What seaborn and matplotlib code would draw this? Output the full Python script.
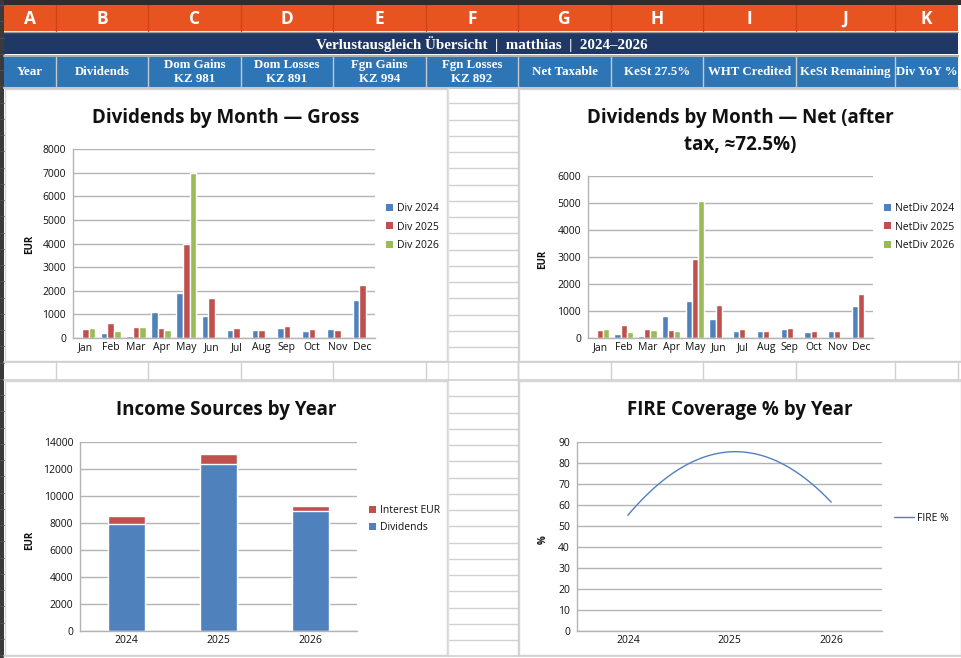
import numpy as np
import pandas as pd
import matplotlib
matplotlib.use("Agg")
import matplotlib.pyplot as plt
from matplotlib.patches import Rectangle
from matplotlib.lines import Line2D
import seaborn as sns

# ---------------- data ----------------
months = ["Jan", "Feb", "Mar", "Apr", "May", "Jun", "Jul", "Aug", "Sep", "Oct", "Nov", "Dec"]
div_2024 = [0, 200, 100, 1100, 1890, 945, 350, 350, 410, 300, 365, 1595]
div_2025 = [380, 635, 480, 440, 3990, 1680, 440, 350, 510, 380, 350, 2255]
div_2026 = [420, 300, 465, 340, 7000, 0, 0, 0, 0, 0, 0, 0]
net_2024 = [0, 160, 86, 812, 1378, 689, 270, 270, 320, 221, 270, 1168]
net_2025 = [283, 467, 320, 295, 2915, 1218, 320, 270, 381, 270, 270, 1636]
net_2026 = [320, 221, 295, 258, 5080, 0, 0, 0, 0, 0, 0, 0]
years = ["2024", "2025", "2026"]
dividends_year = [7950, 12350, 8860]
interest_year = [540, 740, 370]
fire_pct = [55.1, 85.3, 61.4]

col_letters = ["A", "B", "C", "D", "E", "F", "G", "H", "I", "J", "K"]
col_edges = [4, 56, 148, 241, 333, 426, 518, 611, 703, 796, 895, 958]
header_labels = ["Year", "Dividends", "Dom Gains\nKZ 981", "Dom Losses\nKZ 891", "Fgn Gains\nKZ 994",
                 "Fgn Losses\nKZ 892", "Net Taxable", "KeSt 27.5%", "WHT Credited", "KeSt Remaining", "Div YoY %"]
sheet_title = "Verlustausgleich Übersicht  |  matthias  |  2024–2026"

BLUE, RED, GREEN = "#4F81BD", "#C0504D", "#9BBB59"
GRID = "#b3b3b3"
INK = "#111111"

W, H = 961, 658
sns.set_theme(style="white")
plt.rcParams["font.family"] = ["Open Sans", "DejaVu Sans"]
plt.rcParams["text.color"] = INK

fig = plt.figure(figsize=(W / 100, H / 100), dpi=100)
bg = fig.add_axes([0, 0, 1, 1])
bg.set_xlim(0, W)
bg.set_ylim(H, 0)
bg.axis("off")


def rect(x0, y0, x1, y1, **kw):
    bg.add_patch(Rectangle((x0, y0), x1 - x0, y1 - y0, **kw))


def axrect(x0, y0, x1, y1):
    return [x0 / W, 1 - y1 / H, (x1 - x0) / W, (y1 - y0) / H]


# ---------------- spreadsheet background ----------------
rect(0, 0, W, H, facecolor="white", edgecolor="none")
rect(0, 0, W, 5, facecolor="#2d2d2d", edgecolor="none")
rect(0, 0, 4, H, facecolor="#3a3a3a", edgecolor="none")
for y in np.arange(5, H, 16.25):
    bg.plot([0, 4], [y, y], color="#555555", lw=0.6)
# column header row
rect(4, 5, 958, 31, facecolor="#E8541F", edgecolor="none")
for x in col_edges[1:-1]:
    bg.plot([x, x], [5, 31], color="#c9461a", lw=1)
for i, L in enumerate(col_letters):
    cx = (col_edges[i] + col_edges[i + 1]) / 2
    bg.text(cx, 18.5, L, color="white", fontsize=12.5, fontweight="bold", ha="center", va="center")
bg.plot([4, 958], [31.5, 31.5], color="#9a9a9a", lw=1)
# title row
rect(4, 32, 958, 54, facecolor="#1F3864", edgecolor="none")
bg.text(482, 44, sheet_title, color="white", fontsize=10.8, fontweight="bold", ha="center", va="center",
        family=["Liberation Serif", "DejaVu Serif"])
bg.plot([4, 958], [55.5, 55.5], color="#b0b0b0", lw=1.5)
# header row
rect(4, 57, 958, 87, facecolor="#2E75B6", edgecolor="none")
for x in col_edges[1:-1]:
    bg.plot([x, x], [57, 87], color="#c8c8c8", lw=1)
for i, lab in enumerate(header_labels):
    cx = (col_edges[i] + col_edges[i + 1]) / 2
    bg.text(cx, 72, lab, color="white", fontsize=9.3, fontweight="bold", ha="center", va="center",
            family=["Liberation Serif", "DejaVu Serif"], linespacing=1.25)
bg.plot([4, 958], [88, 88], color="#c8c8c8", lw=1.5)

# grid cells between charts
for y in np.arange(87 + 16.25, 362, 16.25):
    bg.plot([448, 518], [y, y], color="#d0d0d0", lw=1)
for y in np.arange(380 + 16.25, 656, 16.25):
    bg.plot([448, 518], [y, y], color="#d0d0d0", lw=1)
bg.plot([518, 518], [88, 656], color="#d0d0d0", lw=1)
bg.plot([448, 448], [88, 656], color="#e0e0e0", lw=1)
bg.plot([4, 961], [362, 362], color="#d0d0d0", lw=1.2)
bg.plot([4, 961], [380, 380], color="#d0d0d0", lw=1.2)
for x in col_edges[1:]:
    bg.plot([x, x], [362, 380], color="#d0d0d0", lw=1)
bg.plot([4, 961], [656, 656], color="#d0d0d0", lw=1.2)

# chart panels
for (x0, y0, x1, y1) in [(5, 89, 447, 361), (519, 89, 961, 361), (5, 381, 447, 655), (519, 381, 961, 655)]:
    rect(x0, y0, x1, y1, facecolor="white", edgecolor="#d6d6d6", lw=1)


def style_ax(ax, ymax, step):
    ax.set_facecolor("none")
    ax.set_ylim(0, ymax)
    ax.set_yticks(np.arange(0, ymax + 1, step))
    ax.yaxis.grid(True, color=GRID, lw=1)
    ax.xaxis.grid(False)
    ax.set_axisbelow(True)
    for s in ["top", "right"]:
        ax.spines[s].set_visible(False)
    for s in ["left", "bottom"]:
        ax.spines[s].set_color(GRID)
        ax.spines[s].set_linewidth(1)
    ax.tick_params(axis="y", length=3, width=0.8, color=GRID, labelsize=7.5, pad=2, labelcolor=INK)
    ax.tick_params(axis="x", length=0, labelsize=7.5, pad=3, labelcolor=INK)
    ax.set_xlabel("")
    ax.set_ylabel("")


def square_legend(ax, labels, colors, x, y, spacing):
    handles = [Rectangle((0, 0), 1, 1, facecolor=c, edgecolor="none") for c in colors]
    ax.legend(handles, labels, loc="upper left", bbox_to_anchor=(x / W, 1 - y / H),
              bbox_transform=fig.transFigure, frameon=False, fontsize=7.5, labelcolor=INK,
              handlelength=0.65, handleheight=0.65, handletextpad=0.45,
              labelspacing=spacing, borderpad=0, borderaxespad=0)


# ---------------- chart 1: gross dividends ----------------
df1 = pd.DataFrame({"month": months * 3,
                    "value": div_2024 + div_2025 + div_2026,
                    "series": ["Div 2024"] * 12 + ["Div 2025"] * 12 + ["Div 2026"] * 12})
ax1 = fig.add_axes(axrect(73, 149, 375, 338))
sns.barplot(data=df1, x="month", y="value", hue="series", palette=[BLUE, RED, GREEN],
            width=0.78, saturation=1, ax=ax1, legend=False, errorbar=None)
style_ax(ax1, 8000, 1000)
ax1.set_xlim(-0.5, 11.5)
square_legend(ax1, ["Div 2024", "Div 2025", "Div 2026"], [BLUE, RED, GREEN], 386, 203, 0.72)
bg.text(226, 118, "Dividends by Month — Gross", fontsize=13.5, fontweight="bold", ha="center", va="center")
bg.text(30, 244, "EUR", fontsize=7, fontweight="bold", rotation=90, ha="center", va="center")

# ---------------- chart 2: net dividends ----------------
df2 = pd.DataFrame({"month": months * 3,
                    "value": net_2024 + net_2025 + net_2026,
                    "series": ["NetDiv 2024"] * 12 + ["NetDiv 2025"] * 12 + ["NetDiv 2026"] * 12})
ax2 = fig.add_axes(axrect(588, 176, 873, 338))
sns.barplot(data=df2, x="month", y="value", hue="series", palette=[BLUE, RED, GREEN],
            width=0.78, saturation=1, ax=ax2, legend=False, errorbar=None)
style_ax(ax2, 6000, 1000)
ax2.set_xlim(-0.5, 11.5)
square_legend(ax2, ["NetDiv 2024", "NetDiv 2025", "NetDiv 2026"], [BLUE, RED, GREEN], 884, 203, 0.72)
bg.text(740, 118, "Dividends by Month — Net (after", fontsize=13.5, fontweight="bold", ha="center", va="center")
bg.text(740, 145, "tax, ≈72.5%)", fontsize=13.5, fontweight="bold", ha="center", va="center")
bg.text(543, 259, "EUR", fontsize=7, fontweight="bold", rotation=90, ha="center", va="center")

# ---------------- chart 3: income sources ----------------
totals = [d + i for d, i in zip(dividends_year, interest_year)]
ax3 = fig.add_axes(axrect(80, 442, 357, 631))
sns.barplot(x=years, y=totals, color=RED, width=0.4, saturation=1, ax=ax3, errorbar=None)
sns.barplot(x=years, y=dividends_year, color=BLUE, width=0.4, saturation=1, ax=ax3, errorbar=None)
style_ax(ax3, 14000, 2000)
ax3.set_xlim(-0.5, 2.5)
square_legend(ax3, ["Interest EUR", "Dividends"], [RED, BLUE], 369, 505, 0.62)
bg.text(226, 410, "Income Sources by Year", fontsize=13.5, fontweight="bold", ha="center", va="center")
bg.text(30, 540, "EUR", fontsize=7, fontweight="bold", rotation=90, ha="center", va="center")

# ---------------- chart 4: FIRE coverage ----------------
xpos = np.arange(len(years))
coef = np.polyfit(xpos, fire_pct, 2)           # smooth rendering through the 3 points
xs = np.linspace(0, 2, 200)
ax4 = fig.add_axes(axrect(577, 442, 882, 631))
sns.lineplot(x=xs, y=np.polyval(coef, xs), color=BLUE, lw=1, ax=ax4)
style_ax(ax4, 90, 10)
ax4.set_xlim(-0.5, 2.5)
ax4.set_xticks(xpos)
ax4.set_xticklabels(years)
ax4.legend([Line2D([0], [0], color=BLUE, lw=1)], ["FIRE %"], loc="upper left",
           bbox_to_anchor=(894 / W, 1 - 513 / H), bbox_transform=fig.transFigure, frameon=False,
           fontsize=7.5, labelcolor=INK, handlelength=1.9, handletextpad=0.3, borderpad=0, borderaxespad=0)
bg.text(740, 410, "FIRE Coverage % by Year", fontsize=13.5, fontweight="bold", ha="center", va="center")
bg.text(543, 540, "%", fontsize=7, fontweight="bold", rotation=90, ha="center", va="center")

fig.savefig("out.png", dpi=100)
